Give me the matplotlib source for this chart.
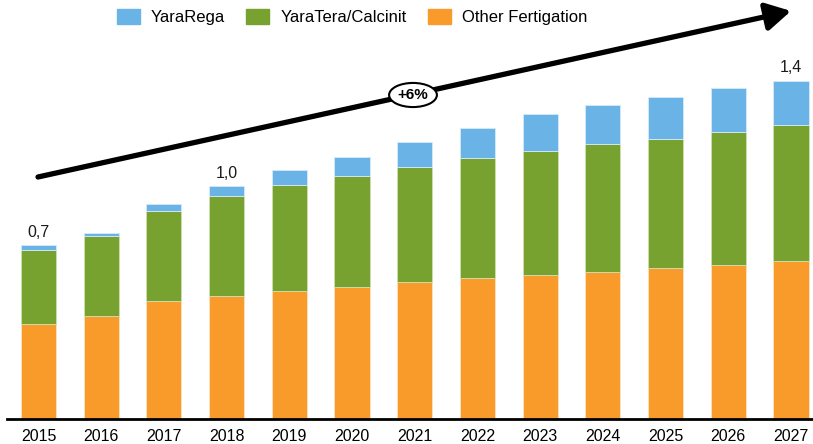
import matplotlib.pyplot as plt
from matplotlib.patches import Patch
import numpy as np

plt.rcParams['font.family'] = ['Liberation Sans', 'DejaVu Sans']

years = ['2015', '2016', '2017', '2018', '2019', '2020', '2021',
         '2022', '2023', '2024', '2025', '2026', '2027']
other_fert = [0.391, 0.423, 0.484, 0.507, 0.525, 0.542, 0.564,
              0.579, 0.591, 0.606, 0.621, 0.635, 0.649]
yaratera = [0.305, 0.329, 0.373, 0.412, 0.436, 0.458, 0.474,
            0.496, 0.510, 0.524, 0.532, 0.546, 0.560]
yararega = [0.019, 0.014, 0.029, 0.041, 0.063, 0.077, 0.102,
            0.121, 0.156, 0.163, 0.174, 0.180, 0.184]
# which bars get a total on top
labelled = {'2015': '0,7', '2018': '1,0', '2027': '1,4'}
cagr = '+6%'

c_blue = '#69B3E7'
c_green = '#78A22F'
c_orange = '#F99B2B'

W, H = 813, 444
fig = plt.figure(figsize=(W / 100, H / 100), dpi=100)
# axes: left edge at 7px, baseline at 419px from top
ax = fig.add_axes([7 / W, (H - 419) / H, 1 - 7 / W, 419 / H])

x = np.arange(len(years))
o = np.array(other_fert)
g = np.array(yaratera)
b = np.array(yararega)
bw = 0.56
ax.bar(x, o, bw, color=c_orange, edgecolor='#fbe3c4', linewidth=0.6)
ax.bar(x, g, bw, bottom=o, color=c_green, edgecolor='#cfe0b0', linewidth=0.6)
ax.bar(x, b, bw, bottom=o + g, color=c_blue, edgecolor='#d6ebf9', linewidth=0.6)

tot = o + g + b
for i, yr in enumerate(years):
    if yr in labelled:
        ax.text(i, tot[i] + 0.052, labelled[yr], ha='center', va='center',
                fontsize=11.5, color='#1a1a1a')

ax.set_xlim(-0.502, 12.35)
ax.set_ylim(0, 419 / 243)
ax.set_xticks(x)
ax.set_xticklabels(years, fontsize=11.5)
ax.tick_params(axis='x', length=0, pad=7)
ax.set_yticks([])
for s in ['top', 'right', 'left']:
    ax.spines[s].set_visible(False)
ax.spines['bottom'].set_linewidth(2)
ax.spines['bottom'].set_color('black')

# growth arrow
ax.annotate('', xy=(791 / W, 1 - 11 / H), xytext=(38 / W, 1 - 177 / H),
            xycoords='figure fraction', textcoords='figure fraction',
            arrowprops=dict(arrowstyle='-|>,head_length=0.75,head_width=0.42',
                            mutation_scale=20, lw=3.8, color='black',
                            shrinkA=0, shrinkB=0))
fig.text(413 / W, 1 - 95 / H, cagr, ha='center', va='center', fontsize=11,
         fontweight='bold',
         bbox=dict(boxstyle='ellipse,pad=0.1', fc='white', ec='black', lw=1.5))

handles = [Patch(color=c_blue, label='YaraRega'),
           Patch(color=c_green, label='YaraTera/Calcinit'),
           Patch(color=c_orange, label='Other Fertigation')]
fig.legend(handles=handles, loc='center', bbox_to_anchor=(352 / W, 1 - 17 / H),
           ncol=3, frameon=False, fontsize=12, handlelength=1.38,
           handleheight=1.08, handletextpad=0.65, columnspacing=1.3)

fig.savefig('out.png', dpi=100)
